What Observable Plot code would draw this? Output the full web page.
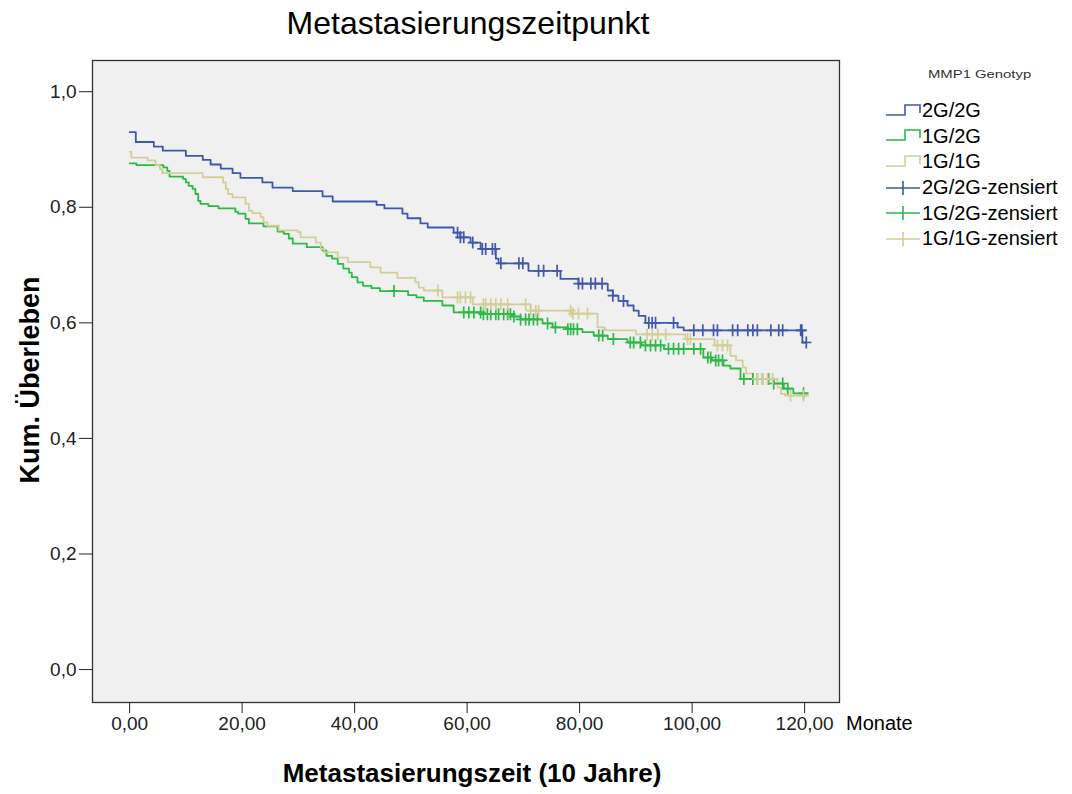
<!DOCTYPE html>
<html><head><meta charset="utf-8">
<script src="https://cdn.jsdelivr.net/npm/d3@7"></script>
<script src="https://cdn.jsdelivr.net/npm/@observablehq/plot@0.6"></script>
<style>
body{margin:0;background:#fff;font-family:"Liberation Sans",Arial,sans-serif;}
#wrap{position:relative;width:1072px;height:794px;overflow:hidden;}
#wrap svg.plot{position:absolute;left:0;top:0;}
.abs{position:absolute;white-space:nowrap;color:#000;}
#title{left:468px;top:5px;transform:translateX(-50%);font-size:32px;}
#ylab{left:30px;top:380px;transform:translate(-50%,-50%) rotate(-90deg);font-size:27px;font-weight:bold;}
#xlab{left:472px;top:758px;transform:translateX(-50%);font-size:26px;font-weight:bold;}
#monate{left:846px;top:712px;font-size:20px;}
#legend{left:884px;top:68px;}
#legend .lt{font-size:11px;color:#333;margin-left:44px;margin-bottom:18px;transform-origin:left center;transform:scaleX(1.35);}
#legend .it{display:flex;align-items:center;height:25.6px;font-size:20px;}
#legend svg{margin-right:0px;}
</style></head><body><div id="wrap"></div>
<script>
// ---------- data ----------
const groups = ["2G/2G", "1G/2G", "1G/1G"];
const colors = ["#3e58ac", "#2eb848", "#d3ce97"];
const legendTitle = "MMP1 Genotyp";
const censorSuffix = "-zensiert";

// 2G/2G step points (months, cumulative survival)
const blueT = [0,1.1,4.3,5.9,10,13,14.4,16.2,18.3,19.7,23.6,25.4,29,34.3,36.1,43.9,45.3,48.5,49.4,51.7,53,57.6,58.8,60.6,62.4,65.1,65.6,70.9,76.6,79.8,85,85.9,86.9,88.5,89.6,90.5,91.7,97.4,98.5,119.6,120.3];
const blueS = [0.930,0.913,0.905,0.898,0.889,0.882,0.874,0.867,0.859,0.851,0.843,0.834,0.828,0.819,0.810,0.804,0.798,0.789,0.781,0.772,0.765,0.756,0.748,0.739,0.728,0.711,0.703,0.690,0.676,0.668,0.656,0.647,0.638,0.630,0.621,0.612,0.600,0.592,0.587,0.566,0.566];
const blueCens = [58.3,58.8,59.4,61,62.7,63.3,64.5,65,66,69.2,69.9,72.7,73.6,76,79.8,80.5,82,82.8,84,85.9,87.8,92.3,92.9,93.5,96.7,100.3,101.9,103.8,104.5,107.2,108.1,109.9,110.8,111.6,114,115.4,116.1,119.3,119.5,120.3];

// 1G/2G
const greenT = [0,1.2,6.0,6.7,7.1,9.5,10.0,10.5,11.2,11.7,12.2,12.6,14.0,15.8,18.8,19.3,20.6,21.2,23.8,26.3,27.4,28.3,29.0,31.5,34.3,35.0,36.0,37.0,38.0,39.0,39.5,40.5,41.5,43.0,44.5,49.5,51.0,52.3,55.6,57.6,62.8,68.0,69.5,73.4,75.2,77.9,80.5,82.5,85.0,88.5,91.0,95.0,102.0,103.5,105.6,106.8,108.6,114.5,116.3,118.0,120.5];
const greenS = [0.876,0.873,0.869,0.863,0.853,0.849,0.843,0.837,0.832,0.823,0.811,0.806,0.802,0.798,0.792,0.789,0.780,0.772,0.767,0.758,0.754,0.746,0.737,0.731,0.725,0.716,0.711,0.702,0.694,0.687,0.679,0.670,0.664,0.660,0.655,0.648,0.644,0.638,0.630,0.618,0.615,0.611,0.606,0.599,0.592,0.589,0.584,0.578,0.572,0.566,0.561,0.555,0.540,0.535,0.526,0.521,0.503,0.495,0.486,0.478,0.478];
const greenCens = [47,59.4,60.3,61.2,62.4,62.9,63.6,64.2,65.1,65.6,66.5,67.2,67.7,68.3,69.5,70.4,71,71.8,72.5,74.3,75.7,77.9,78.4,78.9,79.6,83.4,84.1,86,89,89.6,90.8,91.7,92.6,93.5,94.4,95.8,96.7,97.6,98.5,100.3,101.5,102.8,103.3,104.2,104.7,105.4,109.2,110.8,111.6,112.5,113.6,114.5,116.1,117,119.8];

// 1G/1G
const khakiT = [0,0.3,3.2,4.6,5.4,5.8,13.0,16.6,17.1,17.5,18.3,20.6,21.2,21.8,23.3,23.8,24.5,26.5,29.9,30.4,33.1,34.0,34.6,37.0,38.8,42.8,44.6,47.6,50.8,51.4,52.3,55.6,61.0,71.3,78.5,83.2,84.5,90.0,98.8,104.0,106.8,107.8,109.0,109.6,110.8,115.2,115.8,116.5,120.5];
const khakiS = [0.896,0.886,0.881,0.873,0.866,0.859,0.852,0.843,0.832,0.823,0.817,0.806,0.794,0.790,0.783,0.774,0.768,0.760,0.757,0.748,0.739,0.728,0.722,0.713,0.705,0.696,0.687,0.678,0.670,0.661,0.656,0.644,0.632,0.621,0.616,0.592,0.587,0.580,0.572,0.561,0.543,0.535,0.523,0.512,0.503,0.488,0.477,0.474,0.474];
const khakiCens = [54.8,58.3,58.8,59.7,60.6,62.9,63.3,64.2,65.1,66,67.2,70.4,71.3,72.2,72.7,78.4,78.8,79.8,81.4,92,92.9,93.9,95.3,99.2,99.7,104.5,105.4,106.3,111.6,112.5,113.4,114.3,117.5,119.8];

const xTicks = [0, 20, 40, 60, 80, 100, 120];
const yTicks = [0, 0.2, 0.4, 0.6, 0.8, 1.0];
const xLabel = "Metastasierungszeit (10 Jahre)";
const yLabel = "Kum. Überleben";
const xUnit = "Monate";
const chartTitle = "Metastasierungszeitpunkt";

// ---------- build tables ----------
const series = [[blueT, blueS, blueCens], [greenT, greenS, greenCens], [khakiT, khakiS, khakiCens]];
const steps = [], cens = [];
series.forEach(([T, S, C], i) => {
  T.forEach((t, k) => steps.push({g: groups[i], t, s: S[k]}));
  C.forEach(t => {
    const k = d3.bisectRight(T, t) - 1;
    cens.push({g: groups[i], t, s: S[Math.max(0, k)]});
  });
});

const plusSymbol = {
  draw(ctx, size) {
    const r = Math.sqrt(size / Math.PI);
    ctx.moveTo(-r * 0.85, 0); ctx.lineTo(r * 0.85, 0);
    ctx.moveTo(0, -r); ctx.lineTo(0, r);
  }
};

const comma = f => d => d3.format(f)(d).replace(".", ",");

const plot = Plot.plot({
  width: 1072, height: 794,
  marginLeft: 92, marginRight: 233, marginTop: 60, marginBottom: 92,
  x: {domain: [-6.6, 126.2]},
  y: {domain: [-0.057, 1.054]},
  color: {domain: groups, range: colors},
  style: {fontFamily: "Liberation Sans, Arial, sans-serif", fontSize: "19px", color: "#222", background: "transparent"},
  marks: [
    Plot.frame({fill: "#f0f0f0", stroke: "none"}),
    Plot.line(steps, {x: "t", y: "s", z: "g", stroke: "g", curve: "step-after", strokeWidth: 1.8}),
    Plot.dot(cens, {x: "t", y: "s", stroke: "g", symbol: plusSymbol, r: 6, strokeWidth: 1.7, fill: "none"}),
    Plot.frame({stroke: "#333", strokeWidth: 1.3}),
    Plot.axisX({ticks: xTicks, tickFormat: comma(".2f"), tickSize: 11, tickPadding: 3, label: null, fontSize: 19}),
    Plot.axisY({ticks: yTicks, tickFormat: comma(".1f"), tickSize: 13, tickPadding: 3, label: null, fontSize: 19})
  ]
});
plot.classList.add("plot");

const wrap = document.getElementById("wrap");
wrap.appendChild(plot);

function addText(id, txt) {
  const d = document.createElement("div");
  d.className = "abs"; d.id = id; d.textContent = txt;
  wrap.appendChild(d);
}
addText("title", chartTitle);
addText("ylab", yLabel);
addText("xlab", xLabel);
addText("monate", xUnit);

// legend
const lg = document.createElement("div");
lg.className = "abs"; lg.id = "legend";
const lt = document.createElement("div"); lt.className = "lt"; lt.textContent = legendTitle; lg.appendChild(lt);
const ns = "http://www.w3.org/2000/svg";
function item(color, label, kind) {
  const row = document.createElement("div"); row.className = "it";
  const s = document.createElementNS(ns, "svg");
  s.setAttribute("width", 38); s.setAttribute("height", 20);
  const p = document.createElementNS(ns, "path");
  p.setAttribute("d", kind === "line" ? "M2,14H21V4H36V12" : "M2,10H36M19,3V17");
  p.setAttribute("fill", "none"); p.setAttribute("stroke", color); p.setAttribute("stroke-width", 1.6);
  s.appendChild(p); row.appendChild(s);
  const t = document.createElement("span"); t.textContent = label; row.appendChild(t);
  lg.appendChild(row);
}
groups.forEach((g, i) => item(colors[i], g, "line"));
groups.forEach((g, i) => item(colors[i], g + censorSuffix, "cens"));
wrap.appendChild(lg);
</script></body></html>
